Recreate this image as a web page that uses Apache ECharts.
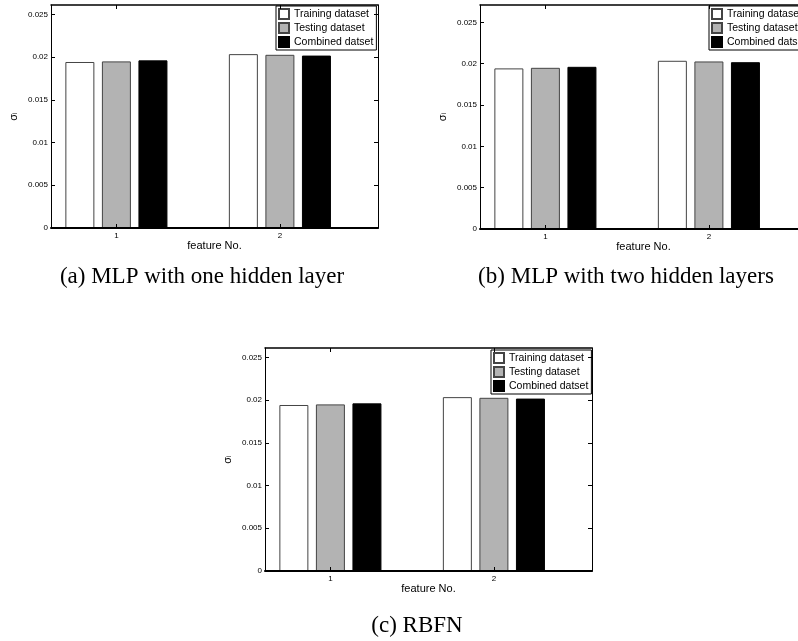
<!DOCTYPE html>
<html>
<head>
<meta charset="utf-8">
<script src="https://cdn.jsdelivr.net/npm/echarts@6/dist/echarts.min.js"></script>
<style>
html,body{margin:0;padding:0;background:#fff;overflow:hidden;}
#chart{width:812px;height:641px;}
</style>
</head>
<body>
<div id="chart"></div>
<script>
// ---- data ----
const featureNo = [1, 2];
const seriesNames = ['Training dataset', 'Testing dataset', 'Combined datset'];
const trainVals = [0.01943, 0.02035];
const testVals = [0.01950, 0.02027];
const combVals = [0.01962, 0.02018];
const yTicks = [0, 0.005, 0.01, 0.015, 0.02, 0.025];
const yMaxes = [0.0261, 0.0271, 0.0261];
const captions = ['(a) MLP with one hidden layer', '(b) MLP with two hidden layers', '(c) RBFN'];

// ---- layout ----
const SANS = '"Liberation Sans", Arial, Helvetica, sans-serif';
const SERIF = '"Liberation Serif", "Times New Roman", serif';
const panels = [
  { grid: { left: 51, top: 5, width: 327, height: 223 }, legend: { left: 276, top: 6 }, caption: [202, 277] },
  { grid: { left: 480, top: 5, width: 327, height: 224 }, legend: { left: 709, top: 6 }, caption: [626, 277] },
  { grid: { left: 265, top: 348, width: 327, height: 223 }, legend: { left: 491, top: 350 }, caption: [417, 626] }
];
const valueSets = [trainVals, testVals, combVals];
const styles = [
  { color: '#ffffff', borderColor: '#444444', borderWidth: 1 },
  { color: '#b3b3b3', borderColor: '#444444', borderWidth: 1 },
  { color: '#000000', borderColor: '#000000', borderWidth: 1 }
];

const grids = [], xAxes = [], yAxes = [], series = [], legends = [], graphics = [];
const fmtY = v => String(+(+v).toFixed(4));

panels.forEach((p, i) => {
  grids.push(Object.assign({ show: false, containLabel: false }, p.grid));
  // bottom x axis
  xAxes.push({
    type: 'value', gridIndex: i, position: 'bottom', min: 0.6, max: 2.6, z: 5,
    axisLine: { show: true, onZero: false, lineStyle: { color: '#000', width: 2 } },
    axisTick: { show: true, inside: true, length: 4, customValues: featureNo, lineStyle: { color: '#000' } },
    axisLabel: { show: true, customValues: featureNo, fontSize: 8, color: '#000', margin: 4, fontFamily: SANS },
    splitLine: { show: false },
    name: 'feature No.', nameLocation: 'middle', nameGap: 10,
    nameTextStyle: { fontSize: 11, color: '#000', fontFamily: SANS }
  });
  // top x axis (box)
  xAxes.push({
    type: 'value', gridIndex: i, position: 'top', min: 0.6, max: 2.6, z: 5,
    axisLine: { show: true, onZero: false, lineStyle: { color: '#000', width: 1.5 } },
    axisTick: { show: true, inside: true, length: 4, customValues: featureNo, lineStyle: { color: '#000' } },
    axisLabel: { show: false },
    splitLine: { show: false }
  });
  // left y axis
  yAxes.push({
    type: 'value', gridIndex: i, position: 'left', min: 0, max: yMaxes[i], z: 5,
    axisLine: { show: true, onZero: false, lineStyle: { color: '#000', width: 1 } },
    axisTick: { show: true, inside: true, length: 4, customValues: yTicks, lineStyle: { color: '#000' } },
    axisLabel: { show: true, customValues: yTicks, formatter: fmtY, fontSize: 8, color: '#000', margin: 3, fontFamily: SANS },
    splitLine: { show: false },
    name: '{s|σ}{i|i}', nameLocation: 'middle', nameRotate: 90, nameGap: 32,
    nameTextStyle: {
      color: '#000', fontFamily: SANS,
      rich: { s: { fontSize: 11, color: '#000', fontFamily: SANS }, i: { fontSize: 7, color: '#000', verticalAlign: 'bottom', fontFamily: SANS } }
    }
  });
  // right y axis (box)
  yAxes.push({
    type: 'value', gridIndex: i, position: 'right', min: 0, max: yMaxes[i], z: 5,
    axisLine: { show: true, onZero: false, lineStyle: { color: '#000', width: 1 } },
    axisTick: { show: true, inside: true, length: 4, customValues: yTicks, lineStyle: { color: '#000' } },
    axisLabel: { show: false },
    splitLine: { show: false }
  });
  seriesNames.forEach((name, k) => {
    series.push({
      type: 'bar', name: name,
      xAxisIndex: i * 2, yAxisIndex: i * 2,
      barWidth: 29, barGap: '26%',
      itemStyle: Object.assign({}, styles[k]),
      emphasis: { disabled: true },
      data: featureNo.map((f, j) => [f, valueSets[k][j]])
    });
  });
  legends.push(Object.assign({
    orient: 'vertical', data: seriesNames, selectedMode: false,
    icon: 'rect', itemWidth: 10, itemHeight: 10, itemGap: 2,
    padding: [2, 3, 2, 2], borderColor: '#000', borderWidth: 1, backgroundColor: '#fff',
    textStyle: { fontSize: 10.5, color: '#000', fontFamily: SANS, lineHeight: 11.5 }
  }, p.legend));
  graphics.push({
    type: 'text', x: p.caption[0], y: p.caption[1],
    style: { text: captions[i], font: '23px ' + SERIF, fill: '#000', align: 'center', verticalAlign: 'middle' }
  });
});

const chart = echarts.init(document.getElementById('chart'), null, { renderer: 'canvas' });
chart.setOption({
  animation: false,
  backgroundColor: '#fff',
  grid: grids,
  xAxis: xAxes,
  yAxis: yAxes,
  legend: legends,
  series: series,
  graphic: graphics
});
</script>
</body>
</html>
